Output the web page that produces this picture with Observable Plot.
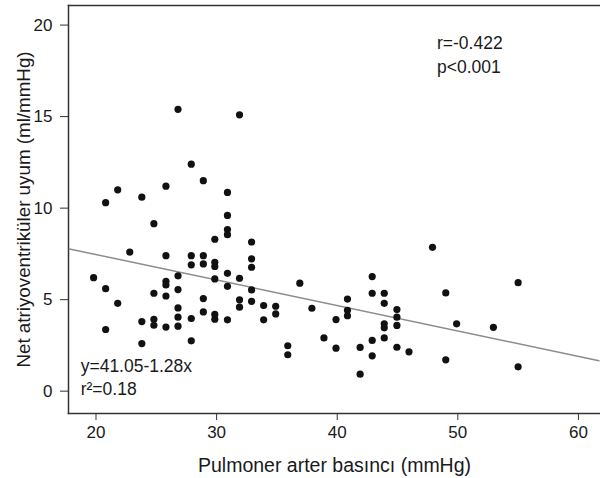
<!DOCTYPE html>
<html>
<head>
<meta charset="utf-8">
<script src="https://cdn.jsdelivr.net/npm/d3@7"></script>
<script src="https://cdn.jsdelivr.net/npm/@observablehq/plot@0.6"></script>
<style>
  html, body { margin: 0; padding: 0; background: #fff; }
  svg { display: block; }
</style>
</head>
<body>
<div id="chart"></div>
<script>
// Pulmoner arter basıncı (mmHg)
const pressure = [
  26.8, 27.9, 28.9, 25.8, 21.8, 20.8, 23.8, 24.8, 22.8, 25.8,
  27.9, 27.9, 28.9, 28.9, 19.8, 26.8, 25.8, 25.8, 20.8, 26.8,
  24.8, 25.8, 28.9, 21.8, 26.8, 28.9, 23.8, 24.8, 24.8, 25.8,
  26.8, 26.8, 27.9, 20.8, 23.8, 27.9, 31.9, 30.9, 30.9, 30.9,
  30.9, 29.85, 32.9, 29.85, 29.85, 32.9, 32.9, 30.9, 31.9, 29.85,
  30.9, 32.9, 31.9, 31.9, 32.9, 33.9, 34.9, 34.9, 29.85, 29.85,
  30.9, 33.9, 36.9, 37.9, 40.85, 40.85, 40.85, 39.9, 38.9, 39.9,
  35.9, 35.9, 47.9, 42.9, 42.9, 43.9, 43.9, 49.0, 44.95, 44.95,
  44.95, 43.9, 43.9, 43.9, 42.9, 41.9, 44.95, 45.95, 42.9, 41.9,
  49.0, 49.9, 55.0, 52.95, 55.0
];
// Net atriyoventriküler uyum (ml/mmHg)
const compliance = [
  15.4, 12.4, 11.5, 11.2, 11.0, 10.3, 10.6, 9.15, 7.6, 7.4,
  7.4, 6.9, 7.4, 6.95, 6.2, 6.3, 6.0, 5.8, 5.6, 5.55,
  5.35, 5.2, 5.06, 4.8, 4.55, 4.33, 3.8, 3.93, 3.6, 3.5,
  4.04, 3.55, 3.97, 3.37, 2.6, 2.75, 15.1, 10.86, 9.6, 8.83,
  8.55, 8.3, 8.15, 7.04, 6.81, 7.23, 6.77, 6.44, 6.17, 6.13,
  5.73, 5.53, 4.99, 4.59, 4.91, 4.68, 4.64, 4.22, 4.19, 3.93,
  3.9, 3.9, 5.9, 4.53, 5.03, 4.42, 4.12, 3.91, 2.91, 2.35,
  2.48, 1.99, 7.86, 6.26, 5.35, 5.35, 4.8, 5.37, 4.46, 4.04,
  3.59, 3.68, 3.46, 2.91, 2.77, 2.39, 2.4, 2.15, 1.93, 0.93,
  1.71, 3.68, 5.93, 3.49, 1.33
];
// fitted line endpoints
const fitX = [17.8, 61.7];
const fitY = [7.77, 1.66];

const xTicks = [20, 30, 40, 50, 60];
const yTicks = [0, 5, 10, 15, 20];
const xLabel = "Pulmoner arter basıncı (mmHg)";
const yLabel = "Net atriyoventriküler uyum (ml/mmHg)";
const statsLines = ["r=-0.422", "p<0.001"];
const fitLines = ["y=41.05-1.28x", "r²=0.18"];

const points = pressure.map((x, i) => ({x, y: compliance[i]}));
const fit = fitX.map((x, i) => ({x, y: fitY[i]}));

const font = "'Liberation Sans', Arial, Helvetica, sans-serif";
const ink = "#1a1a1a";

const chart = Plot.plot({
  width: 600,
  height: 478,
  marginLeft: 68,
  marginRight: 0,
  marginTop: 5,
  marginBottom: 65,
  style: {fontFamily: font, fontSize: "17px", color: ink, background: "#fff"},
  x: {domain: [17.72, 61.83], ticks: xTicks},
  y: {domain: [-1.22, 21.07], ticks: yTicks},
  marks: [
    Plot.frame({anchor: "left", stroke: "#333", strokeWidth: 1.5}),
    Plot.frame({anchor: "top", stroke: "#333", strokeWidth: 1.5}),
    Plot.frame({anchor: "bottom", stroke: "#333", strokeWidth: 1.5}),
    Plot.axisX({ticks: xTicks, tickSize: 7, tickPadding: 5, fontSize: 17, stroke: "#333", label: null}),
    Plot.axisY({ticks: yTicks, tickSize: 8, tickPadding: 8, fontSize: 17, stroke: "#333", label: null}),
    Plot.text([xLabel], {frameAnchor: "bottom", dy: 52, lineAnchor: "middle", textAnchor: "middle", text: d => d, fontSize: 19.5, fill: ink}),
    Plot.text([yLabel], {frameAnchor: "left", dx: -45, rotate: -90, lineAnchor: "middle", textAnchor: "middle", text: d => d, fontSize: 18.8, fill: ink}),
    Plot.line(fit, {x: "x", y: "y", stroke: "#8c8c8c", strokeWidth: 1.5}),
    Plot.dot(points, {x: "x", y: "y", r: 3.6, fill: "#111", stroke: "none"}),
    Plot.text([statsLines[0]], {x: 48.27, y: 19.0, text: d => d, textAnchor: "start", fontSize: 17.5, fill: ink}),
    Plot.text([statsLines[1]], {x: 48.27, y: 17.7, text: d => d, textAnchor: "start", fontSize: 17.5, fill: ink}),
    Plot.text([fitLines[0]], {x: 18.73, y: 1.35, text: d => d, textAnchor: "start", fontSize: 17.5, fill: ink}),
    Plot.text([fitLines[1]], {x: 18.73, y: 0.12, text: d => d, textAnchor: "start", fontSize: 17.5, fill: ink})
  ]
});
document.getElementById("chart").appendChild(chart);
</script>
</body>
</html>
